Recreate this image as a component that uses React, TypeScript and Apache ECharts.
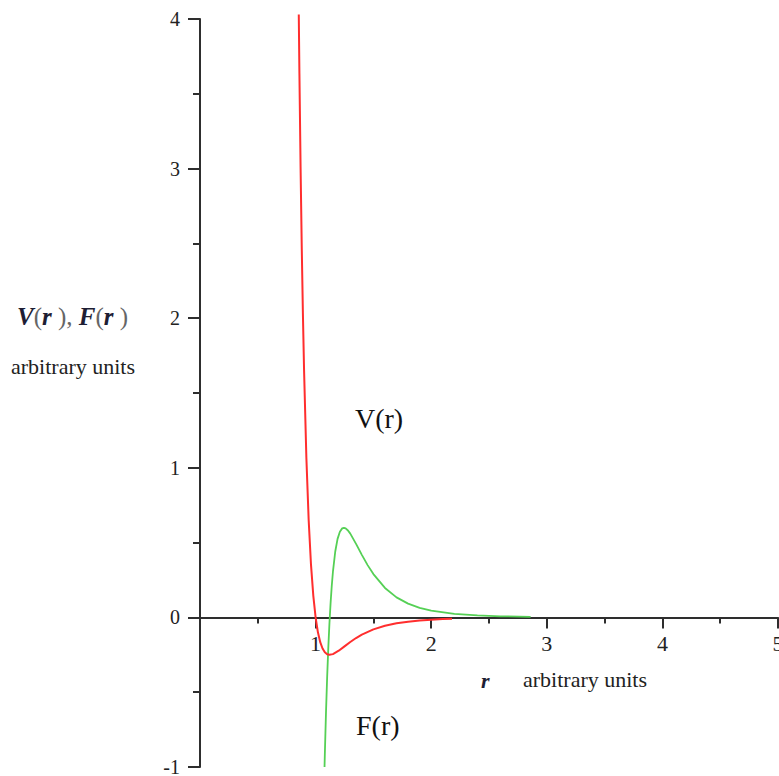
import React, { useEffect, useRef } from "react";
import * as echarts from "echarts";

// V(r) curve (red)
const vR = [0.8545, 0.86, 0.87, 0.88, 0.89, 0.9, 0.92, 0.94, 0.96, 0.98, 1.0, 1.02, 1.04, 1.06, 1.08, 1.1, 1.12, 1.15, 1.2, 1.25, 1.3, 1.35, 1.4, 1.5, 1.6, 1.7, 1.8, 1.9, 2.0, 2.1, 2.18];
const vVal = [4.03, 3.638, 3.012, 2.483, 2.037, 1.659, 1.071, 0.652, 0.354, 0.146, 0.0, -0.0995, -0.1657, -0.208, -0.2331, -0.2458, -0.25, -0.2454, -0.2227, -0.1934, -0.1643, -0.1379, -0.1152, -0.0801, -0.0561, -0.0397, -0.0285, -0.0208, -0.0154, -0.0115, -0.0092];

// F(r) curve (green)
const fR = [1.0772, 1.08, 1.09, 1.1, 1.11, 1.12, 1.13, 1.14, 1.15, 1.17, 1.19, 1.21, 1.23, 1.245, 1.26, 1.28, 1.3, 1.35, 1.4, 1.45, 1.5, 1.6, 1.7, 1.8, 1.9, 2.0, 2.2, 2.4, 2.6, 2.86];
const fVal = [-1.0, -0.9114, -0.6319, -0.397, -0.2003, -0.036, 0.1004, 0.213, 0.3053, 0.4404, 0.525, 0.5731, 0.5951, 0.5991, 0.5952, 0.5811, 0.56, 0.4916, 0.418, 0.3495, 0.2895, 0.1969, 0.1341, 0.0922, 0.0643, 0.0454, 0.0236, 0.0129, 0.0074, 0.0038];

const xTicks = [1, 2, 3, 4, 5];
const yTicks = [-1, 0, 1, 2, 3, 4];

const X_MIN = 0;
const X_MAX = 5;
const Y_MIN = -1;
const Y_MAX = 4;

const SERIF = "'Liberation Serif', 'Times New Roman', serif";
const AXIS_COLOR = "#2e2e2e";
const LABEL_COLOR = "#222";

const GRID_TOP = 19;
const GRID_HEIGHT = 748;

export default function App() {
  const ref = useRef<HTMLDivElement>(null);

  useEffect(() => {
    if (!ref.current) return;
    const chart = echarts.init(ref.current, undefined, { renderer: "svg" });

    const vData = vR.map((r, i) => [r, vVal[i]]);
    const fData = fR.map((r, i) => [r, fVal[i]]);

    const axisLineStyle = { color: AXIS_COLOR, width: 2 };
    // lift the bottom x axis up to the y = 0 line
    const zeroOffset = -(GRID_HEIGHT * (0 - Y_MIN)) / (Y_MAX - Y_MIN);

    chart.setOption({
      animation: false,
      backgroundColor: "#ffffff",
      grid: {
        left: 200,
        top: GRID_TOP,
        width: 578,
        height: GRID_HEIGHT,
        containLabel: false,
        outerBoundsMode: "none",
      },
      xAxis: {
        type: "value",
        position: "bottom",
        offset: zeroOffset,
        min: X_MIN,
        max: X_MAX,
        interval: 1,
        axisLine: { show: true, onZero: false, lineStyle: axisLineStyle },
        axisTick: { show: true, length: 11, lineStyle: axisLineStyle },
        minorTick: { show: true, splitNumber: 2, length: 6, lineStyle: axisLineStyle },
        splitLine: { show: false },
        minorSplitLine: { show: false },
        axisLabel: {
          show: true,
          margin: 15,
          fontSize: 22,
          fontFamily: SERIF,
          color: LABEL_COLOR,
          showMinLabel: true,
          showMaxLabel: true,
          hideOverlap: false,
          formatter: (v: number) => (xTicks.indexOf(v) >= 0 ? String(v) : ""),
        },
      },
      yAxis: {
        type: "value",
        min: Y_MIN,
        max: Y_MAX,
        interval: 1,
        axisLine: { show: true, onZero: false, lineStyle: axisLineStyle },
        axisTick: { show: true, length: 12, lineStyle: axisLineStyle },
        minorTick: { show: true, splitNumber: 2, length: 7, lineStyle: axisLineStyle },
        splitLine: { show: false },
        minorSplitLine: { show: false },
        axisLabel: {
          show: true,
          margin: 20,
          fontSize: 20,
          fontFamily: SERIF,
          color: LABEL_COLOR,
          showMinLabel: true,
          showMaxLabel: true,
          formatter: (v: number) => (yTicks.indexOf(v) >= 0 ? String(v) : ""),
        },
      },
      series: [
        {
          name: "V(r)",
          type: "line",
          data: vData,
          showSymbol: false,
          symbol: "none",
          clip: false,
          smooth: false,
          lineStyle: { color: "#ff2e2e", width: 2 },
          itemStyle: { color: "#ff2e2e" },
          z: 3,
        },
        {
          name: "F(r)",
          type: "line",
          data: fData,
          showSymbol: false,
          symbol: "none",
          clip: false,
          smooth: false,
          lineStyle: { color: "#55d055", width: 1.8 },
          itemStyle: { color: "#55d055" },
          z: 2,
        },
      ],
      graphic: [
        {
          type: "text",
          left: 17,
          top: 304,
          style: {
            text: "{i|V}{p|(}{i|r}{p| ),}{i| F}{p|(}{i|r}{p| )}",
            rich: {
              i: { fontSize: 25, fontFamily: SERIF, fontStyle: "italic", fontWeight: "bold", fill: "#1e1e34", color: "#1e1e34" },
              p: { fontSize: 25, fontFamily: SERIF, fill: "#666", color: "#666" },
            },
          },
        },
        {
          type: "text",
          left: 11,
          top: 355,
          style: { text: "arbitrary units", fontSize: 22, fontFamily: SERIF, fill: "#222" },
        },
        {
          type: "text",
          left: 481,
          top: 669,
          style: { text: "r", fontSize: 22, fontFamily: SERIF, fontStyle: "italic", fontWeight: "bold", fill: "#1e1e34" },
        },
        {
          type: "text",
          left: 523,
          top: 668,
          style: { text: "arbitrary units", fontSize: 22, fontFamily: SERIF, fill: "#222" },
        },
        {
          type: "text",
          left: 355,
          top: 404,
          style: { text: "V(r)", fontSize: 28, fontFamily: SERIF, fill: "#111" },
        },
        {
          type: "text",
          left: 356,
          top: 711,
          style: { text: "F(r)", fontSize: 28, fontFamily: SERIF, fill: "#111" },
        },
      ],
    });

    return () => {
      chart.dispose();
    };
  }, []);

  return (
    <div
      ref={ref}
      style={{ position: "fixed", left: 0, top: 0, width: 779, height: 776, background: "#fff" }}
    />
  );
}
